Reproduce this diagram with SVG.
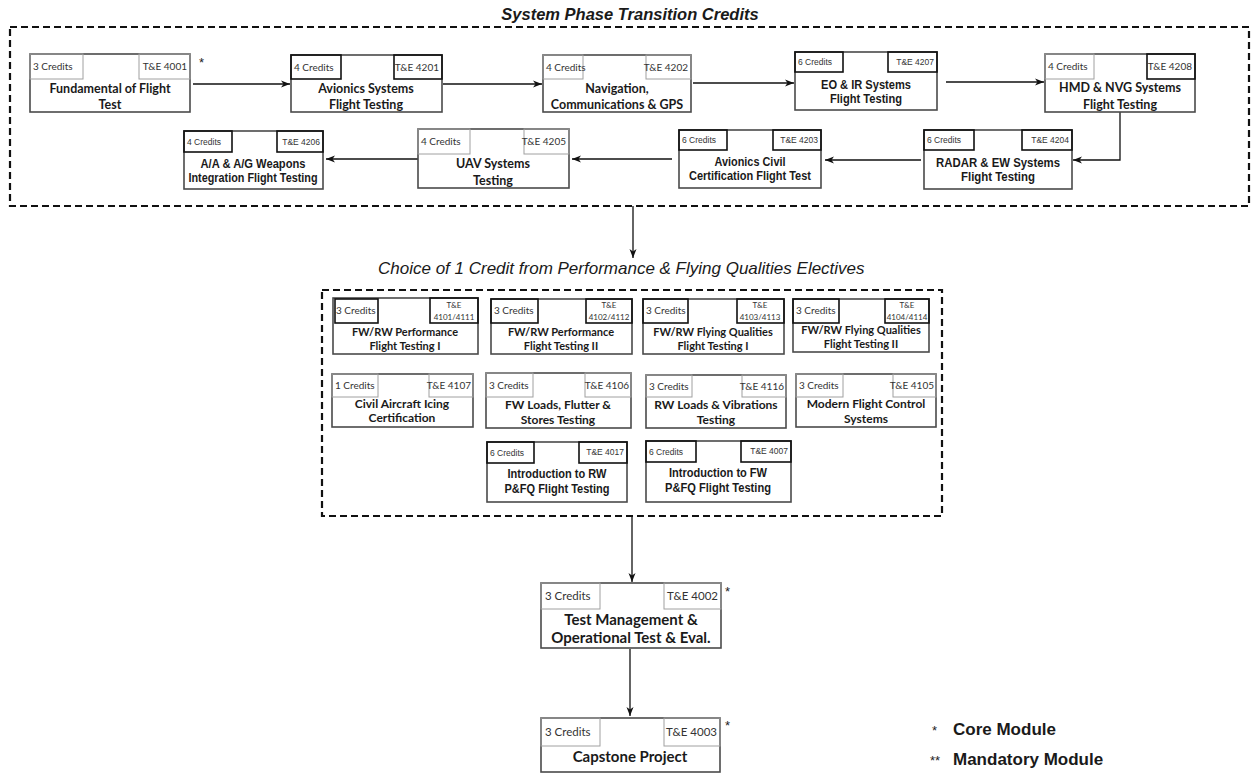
<svg xmlns="http://www.w3.org/2000/svg" width="1252" height="774" viewBox="0 0 1252 774">
<defs>
<marker id="ah" markerUnits="userSpaceOnUse" markerWidth="10" markerHeight="8" refX="9" refY="4" orient="auto">
<path d="M0,0.5 L9,4 L0,7.5 L2.5,4 z" fill="#111"/>
</marker>
<style>
.box{fill:#fff;stroke:#4a4a4a;stroke-width:1.6}
.cg{fill:none;stroke:#a0a0a0;stroke-width:1}
.cb{fill:none;stroke:#111;stroke-width:1.6}
.t{font-family:Lato,"Open Sans",sans-serif;font-weight:700;font-size:12.5px;text-anchor:middle;fill:#1a1a1a}
.ta{font-family:"Liberation Sans",Arial,sans-serif;font-weight:700;font-size:13px;text-anchor:middle;fill:#1a1a1a}
.lc{font-family:Lato,"Open Sans",sans-serif;font-size:10px;fill:#333}
.la{font-family:"Liberation Sans",Arial,sans-serif;font-size:8.5px;fill:#333}
.r{text-anchor:end}
.m{text-anchor:middle}
.te{font-size:8px}
.big{font-size:15px}
.e1{font-size:11px}
.e2{font-size:12px}
.lcb{font-size:11.5px}
.dash{fill:none;stroke:#111;stroke-width:2.2;stroke-dasharray:7 4}
.conn path{fill:none;stroke:#111;stroke-width:1.3;marker-end:url(#ah)}
.ttl{font-family:"Liberation Sans",Arial,sans-serif;font-style:italic;fill:#1a1a1a}
.star{font-family:"Liberation Sans",Arial,sans-serif;font-size:13px;fill:#222}
.leg{font-family:"Liberation Sans",Arial,sans-serif;font-weight:700;font-size:17px;fill:#1a1a1a}
</style>
</defs>
<rect width="1252" height="774" fill="#fff"/>

<g id="frames">
<rect class="dash" x="10" y="27" width="1239" height="179"/>
<rect class="dash" x="322" y="290" width="620" height="226"/>
<text class="ttl" x="630" y="20" font-size="16.5" font-weight="700" text-anchor="middle">System Phase Transition Credits</text>
<text class="ttl" x="378" y="274" font-size="17">Choice of 1 Credit from Performance  &amp; Flying Qualities Electives</text>
</g>

<g class="conn" id="connectors">
<path d="M193,84 H290"/>
<path d="M443,84 H542"/>
<path d="M693,83 H794"/>
<path d="M946,82 H1044"/>
<path d="M1120,112 V160 H1073"/>
<path d="M921,160 H825"/>
<path d="M672,159 H572"/>
<path d="M418,159 H326"/>
<path d="M633,206 V258"/>
<path d="M632,516 V582"/>
<path d="M630,649 V716"/>
</g>

<!-- top row -->
<g id="n4001">
<rect class="box" x="30" y="54" width="160" height="58"/>
<rect class="cg" x="30" y="54" width="53" height="25"/>
<rect class="cg" x="139" y="54" width="51" height="25"/>
<text class="lc" x="33" y="70">3 Credits</text>
<text class="lc r" x="187" y="70">T&amp;E 4001</text>
<text class="t" x="110" y="93" font-size="13">Fundamental of Flight</text>
<text class="t" x="110" y="109" font-size="13">Test</text>
<text class="star" x="199" y="67">*</text>
</g>
<g id="n4201">
<rect class="box" x="291" y="55" width="151" height="57"/>
<rect class="cb" x="291" y="55" width="50" height="24"/>
<rect class="cb" x="394" y="55" width="48" height="24"/>
<text class="lc" x="294" y="71">4 Credits</text>
<text class="lc r" x="439" y="71">T&amp;E 4201</text>
<text class="t" x="366" y="93">Avionics Systems</text>
<text class="t" x="366" y="109">Flight Testing</text>
</g>
<g id="n4202">
<rect class="box" x="543" y="55" width="148" height="57"/>
<rect class="cg" x="543" y="55" width="40" height="24"/>
<rect class="cg" x="646" y="55" width="45" height="24"/>
<text class="lc" x="546" y="71">4 Credits</text>
<text class="lc r" x="688" y="71">T&amp;E 4202</text>
<text class="t" x="617" y="93">Navigation,</text>
<text class="t" x="617" y="109">Communications &amp; GPS</text>
</g>
<g id="n4207">
<rect class="box" x="795" y="52" width="142" height="58"/>
<rect class="cb" x="795" y="52" width="48" height="20"/>
<rect class="cb" x="888" y="52" width="49" height="20"/>
<text class="la" x="798" y="65">6 Credits</text>
<text class="la r" x="934" y="65">T&amp;E 4207</text>
<text class="ta" x="866" y="89" textLength="90" lengthAdjust="spacingAndGlyphs">EO &amp; IR Systems</text>
<text class="ta" x="866" y="103" textLength="72" lengthAdjust="spacingAndGlyphs">Flight  Testing</text>
</g>
<g id="n4208">
<rect class="box" x="1045" y="54" width="150" height="58"/>
<rect class="cg" x="1045" y="54" width="49" height="25"/>
<rect class="cb" x="1147" y="54" width="48" height="25"/>
<text class="lc" x="1048" y="70">4 Credits</text>
<text class="lc r" x="1192" y="70">T&amp;E 4208</text>
<text class="t" x="1120" y="92">HMD &amp; NVG  Systems</text>
<text class="t" x="1120" y="109">Flight Testing</text>
</g>

<!-- second row -->
<g id="n4206">
<rect class="box" x="184" y="131" width="139" height="58"/>
<rect class="cb" x="184" y="131" width="48" height="21"/>
<rect class="cb" x="277" y="131" width="46" height="21"/>
<text class="la" x="187" y="145">4 Credits</text>
<text class="la r" x="320" y="145">T&amp;E 4206</text>
<text class="ta" x="253" y="168" textLength="105" lengthAdjust="spacingAndGlyphs">A/A &amp; A/G Weapons</text>
<text class="ta" x="253" y="182" textLength="129" lengthAdjust="spacingAndGlyphs">Integration Flight  Testing</text>
</g>
<g id="n4205">
<rect class="box" x="418" y="129" width="151" height="59"/>
<rect class="cg" x="418" y="129" width="52" height="25"/>
<rect class="cg" x="524" y="129" width="45" height="25"/>
<text class="lc" x="421" y="145">4 Credits</text>
<text class="lc r" x="566" y="145">T&amp;E 4205</text>
<text class="t" x="493" y="168">UAV Systems</text>
<text class="t" x="493" y="185">Testing</text>
</g>
<g id="n4203">
<rect class="box" x="679" y="130" width="142" height="58"/>
<rect class="cb" x="679" y="130" width="48" height="20"/>
<rect class="cb" x="773" y="130" width="48" height="20"/>
<text class="la" x="682" y="143">6 Credits</text>
<text class="la r" x="818" y="143">T&amp;E 4203</text>
<text class="ta" x="750" y="166" textLength="71" lengthAdjust="spacingAndGlyphs">Avionics  Civil</text>
<text class="ta" x="750" y="180" textLength="122" lengthAdjust="spacingAndGlyphs">Certification  Flight Test</text>
</g>
<g id="n4204">
<rect class="box" x="924" y="130" width="148" height="59"/>
<rect class="cb" x="924" y="130" width="50" height="20"/>
<rect class="cb" x="1022" y="130" width="50" height="20"/>
<text class="la" x="927" y="143">6 Credits</text>
<text class="la r" x="1069" y="143">T&amp;E 4204</text>
<text class="ta" x="998" y="167" textLength="124" lengthAdjust="spacingAndGlyphs">RADAR  &amp; EW Systems</text>
<text class="ta" x="998" y="181" textLength="74" lengthAdjust="spacingAndGlyphs">Flight  Testing</text>
</g>

<!-- electives row 1 -->
<g id="e4101">
<rect class="box" x="333" y="298" width="145" height="56"/>
<rect class="cb" x="335" y="299" width="43" height="24"/>
<rect class="cb" x="430" y="298" width="48" height="25"/>
<text class="lc" x="336" y="314" font-size="9.5">3 Credits</text>
<text class="lc m te" x="454" y="308">T&amp;E</text>
<text class="lc m te" x="454" y="320">4101/4111</text>
<text class="t e1" x="405" y="336">FW/RW Performance</text>
<text class="t e1" x="405" y="350">Flight Testing I</text>
</g>
<g id="e4102">
<rect class="box" x="491" y="299" width="141" height="55"/>
<rect class="cb" x="491" y="299" width="47" height="24"/>
<rect class="cb" x="586" y="299" width="46" height="24"/>
<text class="lc" x="494" y="314" font-size="9.5">3 Credits</text>
<text class="lc m te" x="609" y="308">T&amp;E</text>
<text class="lc m te" x="609" y="320">4102/4112</text>
<text class="t e1" x="561" y="336">FW/RW Performance</text>
<text class="t e1" x="561" y="350">Flight Testing II</text>
</g>
<g id="e4103">
<rect class="box" x="643" y="299" width="141" height="55"/>
<rect class="cb" x="643" y="299" width="45" height="24"/>
<rect class="cb" x="737" y="299" width="47" height="24"/>
<text class="lc" x="646" y="314" font-size="9.5">3 Credits</text>
<text class="lc m te" x="760" y="308">T&amp;E</text>
<text class="lc m te" x="760" y="320">4103/4113</text>
<text class="t e1" x="713" y="336">FW/RW Flying Qualities</text>
<text class="t e1" x="713" y="350">Flight Testing I</text>
</g>
<g id="e4104">
<rect class="box" x="793" y="299" width="136" height="53"/>
<rect class="cb" x="793" y="299" width="46" height="24"/>
<rect class="cb" x="885" y="299" width="44" height="24"/>
<text class="lc" x="796" y="314" font-size="9.5">3 Credits</text>
<text class="lc m te" x="907" y="308">T&amp;E</text>
<text class="lc m te" x="907" y="320">4104/4114</text>
<text class="t e1" x="861" y="334">FW/RW Flying Qualities</text>
<text class="t e1" x="861" y="348">Flight Testing II</text>
</g>

<!-- electives row 2 -->
<g id="e4107">
<rect class="box" x="332" y="374" width="141" height="53"/>
<rect class="cg" x="332" y="374" width="46" height="23"/>
<rect class="cg" x="429" y="374" width="44" height="23"/>
<text class="lc" x="335" y="389">1 Credits</text>
<text class="lc r" x="471" y="389">T&amp;E 4107</text>
<text class="t e2" x="402" y="408">Civil Aircraft Icing</text>
<text class="t e2" x="402" y="422">Certification</text>
</g>
<g id="e4106">
<rect class="box" x="486" y="373" width="145" height="55"/>
<rect class="cg" x="486" y="373" width="47" height="24"/>
<rect class="cg" x="585" y="373" width="46" height="24"/>
<text class="lc" x="489" y="389">3 Credits</text>
<text class="lc r" x="629" y="389">T&amp;E 4106</text>
<text class="t e2" x="558" y="409">FW Loads, Flutter &amp;</text>
<text class="t e2" x="558" y="424">Stores Testing</text>
</g>
<g id="e4116">
<rect class="box" x="646" y="375" width="140" height="53"/>
<rect class="cg" x="646" y="375" width="46" height="22"/>
<rect class="cg" x="742" y="375" width="44" height="22"/>
<text class="lc" x="649" y="390">3 Credits</text>
<text class="lc r" x="784" y="390">T&amp;E 4116</text>
<text class="t e2" x="716" y="409">RW Loads &amp; Vibrations</text>
<text class="t e2" x="716" y="424">Testing</text>
</g>
<g id="e4105">
<rect class="box" x="796" y="374" width="140" height="53"/>
<rect class="cg" x="796" y="374" width="47" height="23"/>
<rect class="cg" x="893" y="374" width="43" height="23"/>
<text class="lc" x="799" y="389">3 Credits</text>
<text class="lc r" x="934" y="389">T&amp;E 4105</text>
<text class="t e2" x="866" y="408">Modern Flight Control</text>
<text class="t e2" x="866" y="423">Systems</text>
</g>

<!-- electives row 3 -->
<g id="e4017">
<rect class="box" x="487" y="442" width="140" height="60"/>
<rect class="cb" x="487" y="442" width="47" height="21"/>
<rect class="cb" x="579" y="442" width="48" height="21"/>
<text class="la" x="490" y="456">6 Credits</text>
<text class="la r" x="624" y="455">T&amp;E 4017</text>
<text class="ta" x="557" y="478" textLength="99" lengthAdjust="spacingAndGlyphs">Introduction to RW</text>
<text class="ta" x="557" y="493" textLength="105" lengthAdjust="spacingAndGlyphs">P&amp;FQ Flight  Testing</text>
</g>
<g id="e4007">
<rect class="box" x="646" y="441" width="145" height="61"/>
<rect class="cb" x="646" y="441" width="50" height="21"/>
<rect class="cb" x="741" y="441" width="50" height="21"/>
<text class="la" x="649" y="455">6 Credits</text>
<text class="la r" x="788" y="454">T&amp;E 4007</text>
<text class="ta" x="718" y="477" textLength="98" lengthAdjust="spacingAndGlyphs">Introduction to FW</text>
<text class="ta" x="718" y="492" textLength="106" lengthAdjust="spacingAndGlyphs">P&amp;FQ Flight  Testing</text>
</g>

<!-- core -->
<g id="n4002">
<rect class="box" x="541" y="583" width="180" height="65"/>
<rect class="cg" x="541" y="583" width="59" height="26"/>
<rect class="cg" x="664" y="583" width="57" height="26"/>
<text class="lc lcb" x="545" y="600">3 Credits</text>
<text class="lc lcb r" x="718" y="600">T&amp;E 4002</text>
<text class="t big" x="631" y="625">Test Management &amp;</text>
<text class="t big" x="631" y="643">Operational Test &amp; Eval.</text>
<text class="star" x="725" y="596">*</text>
</g>
<g id="n4003">
<rect class="box" x="541" y="718" width="179" height="54"/>
<rect class="cg" x="541" y="718" width="59" height="28"/>
<rect class="cg" x="664" y="718" width="56" height="28"/>
<text class="lc lcb" x="545" y="736">3 Credits</text>
<text class="lc lcb r" x="717" y="736">T&amp;E 4003</text>
<text class="t big" x="630" y="762">Capstone Project</text>
<text class="star" x="725" y="730">*</text>
</g>

<g id="legend">
<text class="star" x="932" y="735" font-size="11">*</text>
<text class="leg" x="953" y="735">Core Module</text>
<text class="star" x="930" y="765" font-size="11">**</text>
<text class="leg" x="953" y="765">Mandatory Module</text>
</g>
</svg>
